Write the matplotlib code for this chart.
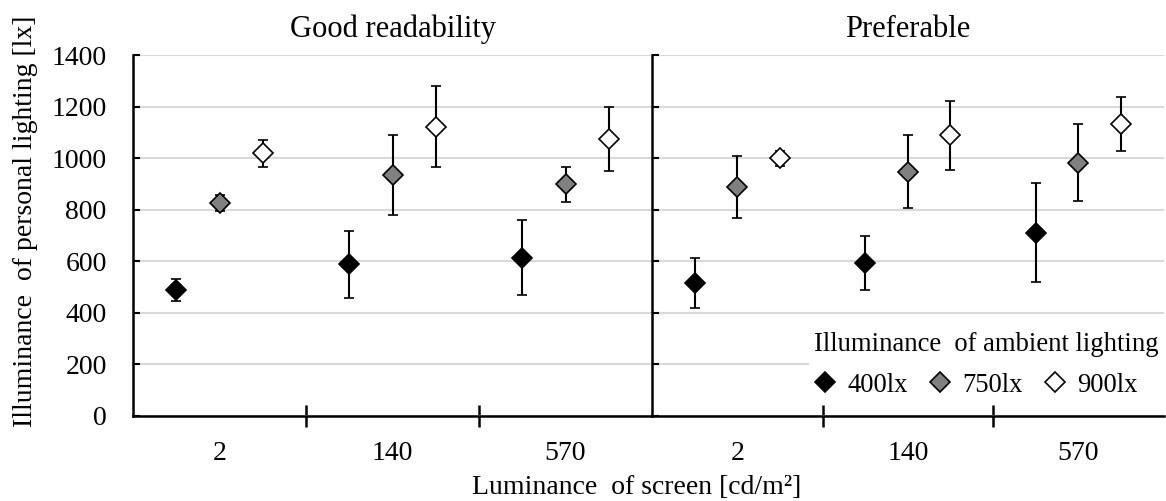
import matplotlib
matplotlib.use("Agg")
import matplotlib.pyplot as plt
from matplotlib.lines import Line2D

plt.rcParams['font.family'] = ['Liberation Serif', 'DejaVu Serif']

categories = ['2', '140', '570']
series = ['400lx', '750lx', '900lx']
face_colors = ['black', '#808080', 'white']

# Good readability
good_mean = [[488, 588, 614], [826, 935, 899], [1019, 1122, 1074]]
good_err = [[43, 130, 145], [30, 156, 67], [53, 157, 124]]
# Preferable
pref_mean = [[517, 593, 711], [888, 947, 983], [1000, 1089, 1134]]
pref_err = [[97, 105, 193], [120, 142, 150], [30, 134, 104]]

offsets = [-0.25, 0.0, 0.25]
fs = 20

fig = plt.figure(figsize=(11.66, 5.01), dpi=100)
ax1 = fig.add_axes([0.1141, 0.1703, 0.4451, 0.7193])
ax2 = fig.add_axes([0.5592, 0.1703, 0.4388, 0.7193])


def draw_panel(ax, means, errs, title, show_ylabels):
    ax.set_axisbelow(True)
    for k in range(3):
        xs = [i + offsets[k] for i in range(len(categories))]
        ax.errorbar(xs, means[k], yerr=errs[k], fmt='D', ms=10,
                    mfc=face_colors[k], mec='black', mew=1.2,
                    ecolor='black', elinewidth=1.5, capsize=3.5, capthick=1.5,
                    zorder=3)
    ax.set_xlim(-0.5, 2.5)
    ax.set_ylim(0, 1400)
    ax.set_yticks(range(0, 1401, 200))
    ax.yaxis.grid(True, color='#d9d9d9', lw=1.5)
    for s in ['top', 'right']:
        ax.spines[s].set_visible(False)
    ax.spines['left'].set_linewidth(1.8)
    ax.spines['bottom'].set_linewidth(1.8)
    ax.tick_params(axis='y', direction='in', length=5, width=1.5,
                   labelsize=fs, pad=19, labelleft=show_ylabels)
    ax.set_xticks(range(len(categories)))
    ax.set_xticklabels(categories)
    ax.set_xticks([0.5, 1.5], minor=True)
    ax.tick_params(axis='x', which='major', length=0, labelsize=fs, pad=18)
    ax.tick_params(axis='x', which='minor', direction='inout', length=16,
                   width=1.8)
    ax.set_title(title, fontsize=22, pad=13)


draw_panel(ax1, good_mean, good_err, 'Good readability', True)
draw_panel(ax2, pref_mean, pref_err, 'Preferable', False)

handles = [Line2D([], [], ls='none', marker='D', ms=10, mfc=c, mec='black',
                  mew=1.2) for c in face_colors]
leg = ax2.legend(handles, series, ncol=3, title='Illuminance  of ambient lighting',
                 loc='lower right', bbox_to_anchor=(1.0, 0.035), fontsize=19.2,
                 title_fontsize=19.2, alignment='left', frameon=True,
                 handlelength=0.8, handletextpad=0.45, columnspacing=0.8,
                 borderpad=0.2, labelspacing=0.6, borderaxespad=0.0)
leg.get_frame().set_facecolor('white')
leg.get_frame().set_edgecolor('none')
leg.get_frame().set_alpha(1)
leg.set_zorder(5)

fig.text(0.0215, 0.5575, 'Illuminance  of personal lighting [lx]', rotation=90,
         ha='center', va='center', fontsize=fs)
fig.text(0.546, 0.026, 'Luminance  of screen [cd/m²]', ha='center',
         va='center', fontsize=fs)

fig.savefig('out.png', dpi=100)
